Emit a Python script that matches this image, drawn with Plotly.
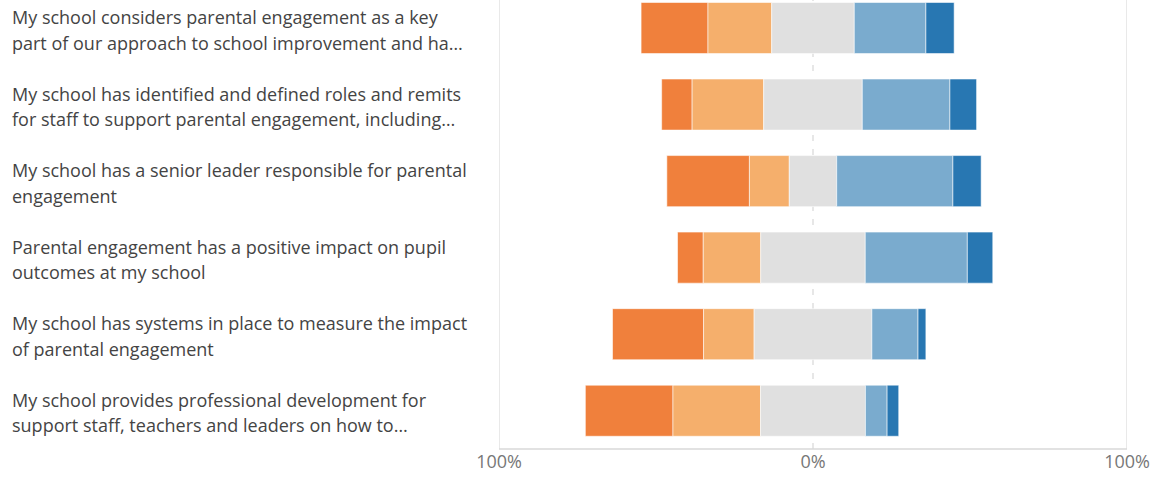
import numpy as np
import plotly.graph_objects as go

# Survey statements, one label per bar (two display lines each)
statements = [
    ["My school considers parental engagement as a key",
     "part of our approach to school improvement and ha…"],
    ["My school has identified and defined roles and remits",
     "for staff to support parental engagement, including…"],
    ["My school has a senior leader responsible for parental",
     "engagement"],
    ["Parental engagement has a positive impact on pupil",
     "outcomes at my school"],
    ["My school has systems in place to measure the impact",
     "of parental engagement"],
    ["My school provides professional development for",
     "support staff, teachers and leaders on how to…"],
]

# Share of responses (%) per statement
strongly_disagree = [21.3, 9.7, 26.3, 8.2, 29.0, 27.9]
disagree = [20.3, 22.8, 12.7, 18.3, 16.1, 27.9]
neutral = [26.3, 31.4, 15.1, 33.3, 37.5, 33.4]
agree = [22.8, 27.9, 37.0, 32.5, 14.7, 6.9]
strongly_agree = [9.0, 8.5, 9.0, 8.1, 2.5, 3.7]

tick_values = [-100, 0, 100]
tick_labels = ["100%", "0%", "100%"]

colors = ["#F0803C", "#F5AF6C", "#E0E0E0", "#7AABCE", "#2877B2"]
names = ["Strongly disagree", "Disagree", "Neutral", "Agree", "Strongly agree"]

segments = np.array([strongly_disagree, disagree, neutral, agree, strongly_agree])
# Diverging layout: the neutral block is centred on zero
left_edge = -(segments[0] + segments[1] + segments[2] / 2)
bases = left_edge + np.vstack([np.zeros(segments.shape[1]), np.cumsum(segments, axis=0)[:-1]])

ypos = np.arange(len(statements))

fig = go.Figure()
for k in range(5):
    fig.add_trace(go.Bar(
        y=ypos, x=segments[k], base=bases[k], orientation="h",
        name=names[k], width=0.667,
        marker=dict(color=colors[k], line=dict(color="rgba(255,255,255,0.55)", width=1)),
        hoverinfo="skip",
    ))

W, H = 1160, 477
ML, MR, MT, MB = 499, 33, 0, 28
pw = W - ML - MR

# Reference lines: dashed zero line, ±100% edges, bottom rule
fig.add_shape(type="line", xref="x", yref="paper", x0=0, x1=0, y0=0, y1=1,
              line=dict(color="#D8D8D8", width=1.2, dash="6px,8px"), layer="below")
for xv in (-100, 100):
    fig.add_shape(type="line", xref="x", yref="paper", x0=xv, x1=xv, y0=0, y1=1,
                  line=dict(color="#E2E2E2", width=1.5), layer="below")
fig.add_shape(type="line", xref="x", yref="paper", x0=-100, x1=100, y0=0, y1=0,
              line=dict(color="#D9D9D9", width=1.5), layer="below")

label_x = (10 - ML) / pw
for i, lines in enumerate(statements):
    for j, line in enumerate(lines):
        fig.add_annotation(
            xref="paper", yref="y", x=label_x, y=i - 0.14 + j * 0.33,
            text=line, showarrow=False, xanchor="left", yanchor="middle",
            font=dict(family="Open Sans", size=18, color="#444444"),
        )

fig.update_layout(
    width=W, height=H,
    margin=dict(l=ML, r=MR, t=MT, b=MB),
    paper_bgcolor="white", plot_bgcolor="white",
    barmode="overlay", showlegend=False,
    xaxis=dict(range=[-100, 100], tickvals=tick_values, ticktext=tick_labels,
               showgrid=False, zeroline=False, showline=False, ticks="",
               tickfont=dict(family="Open Sans", size=18, color="#777777")),
    yaxis=dict(range=[5.5, -0.366], showgrid=False, zeroline=False,
               showticklabels=False, ticks="", showline=False),
)

fig.write_html("out.html")
